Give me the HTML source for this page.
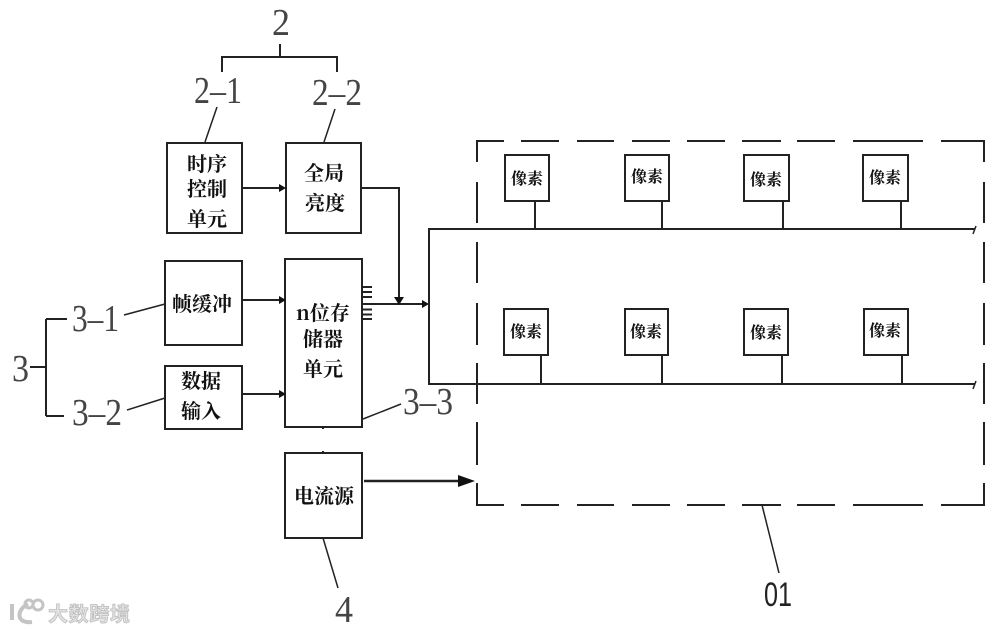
<!DOCTYPE html>
<html><head><meta charset="utf-8"><style>
html,body{margin:0;padding:0;background:#fff}
svg{display:block}
.c{font-family:"Noto Serif CJK SC","Liberation Serif",serif;font-weight:700;fill:#111;text-anchor:middle}
.n{font-family:"Liberation Serif","Noto Serif CJK SC",serif;fill:#444;font-size:38px}
</style></head><body>
<svg width="1000" height="631" viewBox="0 0 1000 631" xmlns="http://www.w3.org/2000/svg">
<rect width="1000" height="631" fill="#fff"/>
<g fill="none" stroke="#222" stroke-width="2">
<rect x="167" y="143" width="75" height="90"/>
<rect x="286" y="143" width="75" height="90"/>
<rect x="165" y="261" width="77" height="84"/>
<rect x="165" y="366" width="77" height="63"/>
<rect x="285" y="259" width="77" height="168"/>
<rect x="285" y="453" width="77" height="85"/>
<path d="M222 72V57H337V72M280 44V57"/>
<path d="M46 319V416M46 367H30M46 319H67M46 416H64"/>
<rect x="505" y="155" width="44" height="46"/>
<rect x="625" y="155" width="44" height="46"/>
<rect x="744" y="155" width="45" height="46"/>
<rect x="863" y="155" width="45" height="46"/>
<rect x="504" y="309" width="44" height="46"/>
<rect x="625" y="309" width="43" height="46"/>
<rect x="744" y="309" width="44" height="46"/>
<rect x="864" y="309" width="44" height="46"/>
<path d="M535 201V229M662 201V229M783 201V229M901 201V229M541 355V384M662 355V384M782 355V384M902 355V384"/>
<path d="M975 229H429V384H975"/>
<path d="M242 188H280M242 300H280M242 394H280M361 188H399V297M362 304H423"/>
<path d="M362 287H372M362 292H372M362 297H372M362 309.500H372M362 314.500H372M362 319H372"/>
<path d="M323 426V429M323 451V453"/>
<path d="M477 162V141H504M521 141H559M577 141H614M632 141H670M687 141H725M742 141H781M797 141H835M853 141H923M941 141H984V162"/>
<path d="M477 182V223M477 242V283M477 303V345M477 363V404M477 422V465M477 483V505H504M521 505H559M577 505H614M632 505H670M687 505H725M742 505H781M797 505H835M853 505H923M941 505H984V483"/>
<path d="M984 182V223M984 242V283M984 303V345M984 363V404M984 422V465"/>
<path d="M364 481H460" stroke-width="2.500"/>
</g>
<g fill="none" stroke="#222" stroke-width="1.500">
<path d="M217 107L205 142M335 109L324 142M124 315L165 304M127 410L165 398M363 419L401 404M323 538L338 588M762 505L779 573M973 234L976 226M973 389L976 381"/>
</g>
<g fill="#111">
<path d="M286 188L279 184V192ZM286 300L279 296V304ZM286 394L279 390V398ZM399 305L394 297H404ZM429 304L422 300V308Z"/>
<path d="M475 481L458 475V487Z"/>
</g>
<g class="c" font-size="20">
<text x="207" y="171">时序</text><text x="207" y="196">控制</text><text x="207" y="226">单元</text>
<text x="324" y="180">全局</text><text x="325" y="210">亮度</text>
<text x="202" y="311">帧缓冲</text>
<text x="201" y="388">数据</text><text x="201" y="418">输入</text>
<text x="323" y="320">n位存</text><text x="323" y="346">储器</text><text x="323" y="376">单元</text>
<text x="324" y="503">电流源</text>
</g>
<g class="c" font-size="16">
<text x="527" y="184">像素</text><text x="647" y="182">像素</text><text x="766" y="185">像素</text><text x="885" y="183">像素</text>
<text x="526" y="337">像素</text><text x="646" y="337">像素</text><text x="766" y="338">像素</text><text x="885" y="336">像素</text>
</g>
<g class="n">
<text x="272" y="35" textLength="18" lengthAdjust="spacingAndGlyphs">2</text>
<text x="194" y="103" textLength="48" lengthAdjust="spacingAndGlyphs">2–1</text>
<text x="312" y="105" textLength="50" lengthAdjust="spacingAndGlyphs">2–2</text>
<text x="72" y="331" textLength="47" lengthAdjust="spacingAndGlyphs">3–1</text>
<text x="72" y="425" textLength="50" lengthAdjust="spacingAndGlyphs">3–2</text>
<text x="403" y="414" textLength="50" lengthAdjust="spacingAndGlyphs">3–3</text>
<text x="12" y="381" textLength="17" lengthAdjust="spacingAndGlyphs">3</text>
<text x="335" y="622" textLength="18" lengthAdjust="spacingAndGlyphs">4</text>
<text x="764" y="606" textLength="28" lengthAdjust="spacingAndGlyphs" style="fill:#222;font-family:'Liberation Sans',sans-serif;font-size:34px">01</text>
</g>
<g fill="none" stroke="#c4c4c4" stroke-width="4">
<path d="M12 604V620M28 604C16 610 16 624 32 622"/>
<circle cx="29" cy="604" r="4" stroke-width="3"/><circle cx="38" cy="605" r="5" stroke-width="3"/>
</g>
<text x="48" y="621" font-family="'Noto Sans CJK SC',sans-serif" font-weight="700" font-size="20" fill="#e2e2e2" stroke="#bdbdbd" stroke-width=".8" textLength="82">大数跨境</text>
</svg>
</body></html>
